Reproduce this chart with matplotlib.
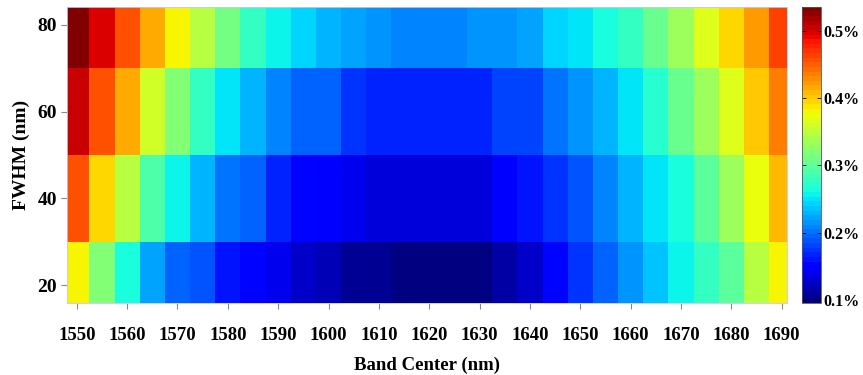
import numpy as np
import matplotlib
matplotlib.use("Agg")
import matplotlib.pyplot as plt
from matplotlib.ticker import FuncFormatter

band_center = list(range(1550, 1691, 5))
fwhm = [20, 40, 60, 80]

# values in percent, rows by FWHM (20, 40, 60, 80)
row_fwhm20 = [0.381, 0.317, 0.262, 0.225, 0.196, 0.185, 0.161, 0.152, 0.137, 0.129,
              0.117, 0.106, 0.103, 0.096, 0.095, 0.095, 0.097, 0.113, 0.129, 0.154,
              0.174, 0.196, 0.218, 0.238, 0.260, 0.275, 0.297, 0.344, 0.381]
row_fwhm40 = [0.460, 0.392, 0.344, 0.293, 0.260, 0.231, 0.205, 0.192, 0.170, 0.157,
              0.148, 0.137, 0.132, 0.130, 0.130, 0.130, 0.134, 0.146, 0.161, 0.174,
              0.187, 0.209, 0.231, 0.253, 0.267, 0.300, 0.330, 0.377, 0.407]
row_fwhm60 = [0.506, 0.460, 0.412, 0.362, 0.317, 0.275, 0.249, 0.231, 0.209, 0.196,
              0.192, 0.174, 0.170, 0.166, 0.166, 0.168, 0.170, 0.179, 0.183, 0.203,
              0.216, 0.231, 0.253, 0.271, 0.302, 0.335, 0.366, 0.399, 0.438]
row_fwhm80 = [0.535, 0.495, 0.460, 0.418, 0.381, 0.344, 0.311, 0.275, 0.258, 0.245,
              0.231, 0.225, 0.218, 0.209, 0.209, 0.209, 0.216, 0.216, 0.223, 0.240,
              0.253, 0.267, 0.275, 0.302, 0.335, 0.368, 0.394, 0.425, 0.465]

x_ticks = list(range(1550, 1691, 10))
y_ticks = [20, 40, 60, 80]
cbar_ticks = [0.1, 0.2, 0.3, 0.4, 0.5]

Z = np.array([row_fwhm20, row_fwhm40, row_fwhm60, row_fwhm80])
xc = np.array(band_center, dtype=float)
yc = np.array(fwhm, dtype=float)
xe = np.concatenate([[xc[0] - 2.5], (xc[:-1] + xc[1:]) / 2, [xc[-1] + 2.5]])
ye = np.concatenate([[yc[0] - 10], (yc[:-1] + yc[1:]) / 2, [yc[-1] + 10]])

plt.rcParams['font.family'] = ['Liberation Serif', 'DejaVu Serif']
plt.rcParams['font.weight'] = 'bold'

fig = plt.figure(figsize=(8.63, 3.75), dpi=100)
ax = fig.add_axes([66.7 / 863, 1 - 303.3 / 375, 720 / 863, 296.6 / 375])
cax = fig.add_axes([802 / 863, 1 - 303.3 / 375, 19 / 863, 296.6 / 375])

cmap = plt.get_cmap('jet', 64)
mesh = ax.pcolormesh(xe, ye, Z, cmap=cmap, vmin=0.095, vmax=0.536, shading='flat')
ax.set_xlim(1548, 1691)
ax.set_ylim(15.8, 84.2)
ax.set_xticks(x_ticks)
ax.set_yticks(y_ticks)
ax.tick_params(axis='both', direction='out', length=4, width=0.8, color='#888888')
ax.tick_params(axis='x', pad=13, labelsize=13.5)
ax.tick_params(axis='y', pad=3, labelsize=14)
for lab in ax.get_xticklabels() + ax.get_yticklabels():
    lab.set_fontweight('bold')
for s in ax.spines.values():
    s.set_color('#c8c8e8')
    s.set_linewidth(0.6)
ax.set_xlabel('Band Center (nm)', fontsize=13.5, fontweight='bold', labelpad=9)
ax.set_ylabel('FWHM (nm)', fontsize=14, fontweight='bold', labelpad=5)

cb = fig.colorbar(mesh, cax=cax)
cb.set_ticks(cbar_ticks)
cb.ax.yaxis.set_major_formatter(FuncFormatter(lambda v, p: f"{v:.1f}%"))
cb.ax.tick_params(direction='in', length=3, width=0.6, labelsize=11.5, pad=2,
                  left=True, right=True)
for lab in cb.ax.get_yticklabels():
    lab.set_fontweight('bold')
cb.outline.set_linewidth(0.6)
cb.outline.set_edgecolor('#555555')

fig.savefig('out.png', dpi=100)
